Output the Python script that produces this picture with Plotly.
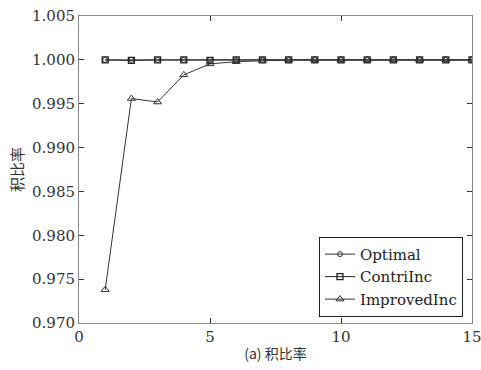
import plotly.graph_objects as go

x_vals = list(range(1, 16))
optimal = [1.0] * 15
contri_inc = [1.0, 0.99995, 1.0, 1.0, 0.99995, 1.0, 1.0, 1.0, 1.0, 1.0, 1.0, 1.0, 1.0, 1.0, 1.0]
improved_inc = [0.9738, 0.9956, 0.9952, 0.9983, 0.99955, 0.9998, 0.9999, 1.0, 1.0, 1.0, 1.0, 1.0, 1.0, 1.0, 1.0]
y_ticks = [0.970, 0.975, 0.980, 0.985, 0.990, 0.995, 1.000, 1.005]
x_ticks = [0, 5, 10, 15]

serif = "DejaVu Serif"
cjk = "Noto Sans CJK SC"

fig = go.Figure()
fig.add_trace(go.Scatter(x=x_vals, y=optimal, name="Optimal", mode="lines+markers",
                         line=dict(color="#333", width=1),
                         marker=dict(symbol="circle-open", size=5, color="#333", line=dict(width=1))))
fig.add_trace(go.Scatter(x=x_vals, y=contri_inc, name="ContriInc", mode="lines+markers",
                         line=dict(color="#222", width=1),
                         marker=dict(symbol="square-open", size=6, color="#222", line=dict(width=1.3))))
fig.add_trace(go.Scatter(x=x_vals, y=improved_inc, name="ImprovedInc", mode="lines+markers",
                         line=dict(color="#333", width=1),
                         marker=dict(symbol="triangle-up-open", size=7, color="#333", line=dict(width=1))))

fig.update_layout(
    width=481, height=370,
    margin=dict(l=79, r=9, t=16, b=47, autoexpand=False),
    plot_bgcolor="white", paper_bgcolor="white",
    font=dict(family=serif, size=16, color="#333"),
    legend=dict(x=0.977, y=0.02, xanchor="right", yanchor="bottom",
                bgcolor="white", bordercolor="#222", borderwidth=1,
                font=dict(family=serif, size=15, color="#222"),
                itemwidth=30, tracegroupgap=0),
)
for upd, ticks, txt, rng, title, tsize in (
    (fig.update_xaxes, x_ticks, [str(v) for v in x_ticks], [0, 15.0001], "(a) 积比率", 14),
    (fig.update_yaxes, y_ticks, [f"{v:.3f}" for v in y_ticks], [0.970, 1.00501], "积比率", 15),
):
    upd(range=rng, tickvals=ticks, ticktext=txt,
        showgrid=False, zeroline=False, showline=True, linecolor="#888", linewidth=1,
        mirror="ticks", ticks="inside", ticklen=5, tickcolor="#333", automargin=False,
        ticklabeloverflow="allow",
        tickfont=dict(family=serif, size=15, color="#333"),
        title=dict(text=title, font=dict(family=cjk, size=tsize, color="#333"), standoff=4))

fig.write_html("out.html", config={"displayModeBar": False},
               post_script="document.body.style.margin='0';document.body.style.overflow='hidden';")
